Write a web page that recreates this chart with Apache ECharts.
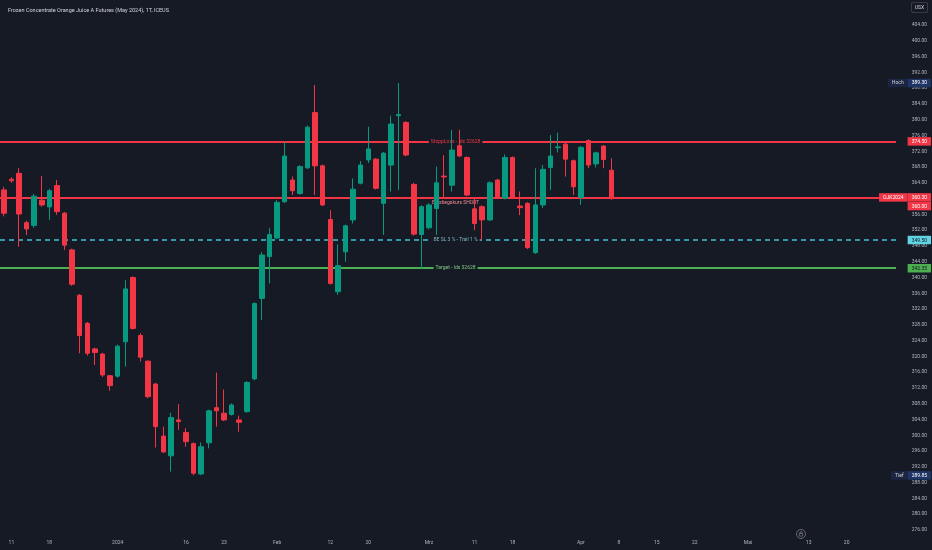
<!DOCTYPE html>
<html>
<head>
<meta charset="utf-8">
<script src="https://cdn.jsdelivr.net/npm/echarts@6/dist/echarts.min.js"></script>
<style>
html,body{margin:0;padding:0;background:#161a25;}
#chart{width:932px;height:550px;}
</style>
</head>
<body>
<div id="chart"></div>
<script>
// ---------- data ----------
const titleText = 'Frozen Concentrate Orange Juice A Futures (May 2024), 1T, ICEUS';
const currencyUnit = 'USX';
const symbolName = 'OJK2024';

const tradeDates = [
  '2023-12-08','2023-12-11','2023-12-12','2023-12-13','2023-12-14','2023-12-15','2023-12-18','2023-12-19','2023-12-20','2023-12-21',
  '2023-12-22','2023-12-26','2023-12-27','2023-12-28','2023-12-29','2024-01-02','2024-01-03','2024-01-04','2024-01-05','2024-01-08',
  '2024-01-09','2024-01-10','2024-01-11','2024-01-12','2024-01-16','2024-01-17','2024-01-18','2024-01-19','2024-01-22','2024-01-23',
  '2024-01-24','2024-01-25','2024-01-26','2024-01-29','2024-01-30','2024-01-31','2024-02-01','2024-02-02','2024-02-05','2024-02-06',
  '2024-02-07','2024-02-08','2024-02-09','2024-02-12','2024-02-13','2024-02-14','2024-02-15','2024-02-16','2024-02-20','2024-02-21',
  '2024-02-22','2024-02-23','2024-02-26','2024-02-27','2024-02-28','2024-02-29','2024-03-01','2024-03-04','2024-03-05','2024-03-06',
  '2024-03-07','2024-03-08','2024-03-11','2024-03-12','2024-03-13','2024-03-14','2024-03-15','2024-03-18','2024-03-19','2024-03-20',
  '2024-03-21','2024-03-22','2024-03-25','2024-03-26','2024-03-27','2024-03-28','2024-04-01','2024-04-02','2024-04-03','2024-04-04',
  '2024-04-05'
];
const futureDates = [
  '2024-04-08','2024-04-09','2024-04-10','2024-04-11','2024-04-12','2024-04-15','2024-04-16','2024-04-17','2024-04-18','2024-04-19',
  '2024-04-22','2024-04-23','2024-04-24','2024-04-25','2024-04-26','2024-04-29','2024-04-30','2024-05-01','2024-05-02','2024-05-03',
  '2024-05-06','2024-05-07','2024-05-08','2024-05-09','2024-05-10','2024-05-13','2024-05-14','2024-05-15','2024-05-16','2024-05-17',
  '2024-05-20','2024-05-21','2024-05-22','2024-05-23','2024-05-24','2024-05-28','2024-05-29'
];

const opens = [
  362.2, 364.9, 366.4, 353.9, 353.2, 359.6, 357.9, 363.3, 356.3, 347.0,
  335.5, 328.4, 321.9, 320.6, 315.1, 315.0, 323.7, 340.0, 325.3, 318.8,
  313.0, 299.8, 294.8, 303.9, 300.7, 297.9, 290.2, 298.1, 307.0, 305.6,
  305.3, 303.9, 306.0, 314.3, 334.7, 345.3, 350.0, 359.2, 364.7, 361.3,
  367.8, 381.8, 368.3, 354.7, 336.4, 346.5, 354.6, 363.9, 369.8, 370.0,
  358.8, 368.5, 381.0, 379.3, 363.6, 350.9, 352.6, 357.5, 365.7, 363.4,
  373.4, 370.4, 357.4, 357.95, 354.6, 364.7, 360.1, 370.4, 358.1, 358.8,
  346.3, 358.4, 367.9, 372.9, 373.8, 369.6, 360.3, 374.7, 368.8, 373.3,
  367.2
];
const closes = [
  356.3, 364.5, 356.1, 352.3, 360.6, 358.4, 362.0, 356.7, 348.2, 338.3,
  325.3, 320.8, 321.0, 315.3, 312.6, 322.6, 337.1, 327.1, 319.8, 309.8,
  302.2, 295.8, 304.5, 303.5, 298.4, 290.4, 297.1, 306.2, 306.2, 303.9,
  307.7, 303.3, 313.4, 333.4, 345.7, 350.9, 359.05, 370.8, 362.0, 368.1,
  378.1, 368.3, 358.4, 338.5, 343.0, 353.1, 362.4, 368.5, 372.6, 362.6,
  371.5, 378.9, 381.3, 371.05, 351.0, 357.95, 358.4, 364.0, 365.5, 372.3,
  370.8, 360.9, 353.7, 354.6, 364.0, 360.2, 370.4, 360.2, 357.7, 347.55,
  358.4, 367.4, 370.8, 373.1, 370.0, 363.0, 373.0, 368.5, 371.6, 369.9,
  360.0
];
const lows = [
  355.5, 364.0, 347.8, 350.8, 352.6, 357.9, 354.6, 355.9, 347.0, 337.9,
  320.8, 320.2, 317.8, 314.8, 311.3, 314.6, 317.4, 326.8, 318.7, 309.4,
  296.9, 295.5, 290.8, 301.4, 297.1, 289.85, 289.9, 296.7, 302.2, 303.6,
  305.0, 300.9, 305.7, 314.0, 329.2, 338.5, 349.7, 358.9, 360.9, 361.0,
  367.5, 360.9, 358.1, 338.2, 335.6, 344.0, 353.7, 363.6, 369.0, 362.3,
  350.8, 361.8, 362.2, 370.7, 350.6, 342.3, 352.2, 350.8, 360.1, 361.8,
  370.5, 360.6, 352.0, 349.5, 354.3, 359.9, 359.8, 359.9, 355.8, 347.2,
  346.0, 357.6, 362.2, 371.7, 365.6, 360.9, 358.4, 367.7, 367.9, 367.7,
  359.7
];
const highs = [
  363.0, 365.4, 367.7, 354.4, 361.2, 365.7, 362.5, 364.7, 356.6, 347.3,
  335.8, 328.7, 322.2, 320.9, 315.3, 323.0, 339.3, 340.3, 325.9, 319.0,
  313.3, 302.2, 305.7, 307.9, 301.8, 298.2, 298.2, 306.5, 315.9, 311.6,
  308.1, 305.0, 313.7, 333.7, 346.4, 352.5, 359.6, 374.4, 365.6, 368.5,
  378.5, 388.8, 368.6, 357.1, 348.4, 353.4, 365.1, 369.5, 378.2, 370.3,
  371.8, 381.0, 389.3, 379.6, 364.0, 358.3, 358.8, 368.1, 371.0, 377.4,
  377.4, 370.7, 360.0, 358.3, 364.4, 365.0, 371.2, 370.7, 361.8, 359.1,
  367.7, 368.5, 376.1, 376.7, 374.4, 369.9, 373.3, 375.0, 371.9, 373.6,
  370.2
];

// time-axis tick labels
const tickDates = ['2023-12-11','2023-12-18','2024-01-02','2024-01-16','2024-01-23','2024-02-01','2024-02-12','2024-02-20','2024-03-01','2024-03-11','2024-03-18','2024-04-01','2024-04-08','2024-04-15','2024-04-22','2024-05-01','2024-05-13','2024-05-20'];
const tickTexts = ['11','18','2024','16','23','Feb','12','20','Mrz','11','18','Apr','8','15','22','Mai','13','20'];

// price-axis range
const priceMin = 276, priceMax = 410, priceStep = 4, priceLabelTop = 404;

// drawn horizontal levels
const levelValues = [374.50, 360.30, 349.50, 342.35];
const levelTexts = ['StoppLoss - Idx 32628', 'Einstiegskurs SHORT', 'BE SL 3 % - Trail 1 %', 'Target - Idx 32628'];
const levelTextDates = ['2024-03-06', '2024-03-07'];

// visible range extremes
const rangeHighText = 'Hoch', rangeHigh = 389.30;
const rangeLowText = 'Tief', rangeLow = 289.85;

// ---------- chart ----------
const FONT = 'Roboto, "Noto Sans", sans-serif';
const BG = '#161a25';
const CLEAR = 'rgba(0,0,0,0)';
const allDates = tradeDates.concat(futureDates);
const candleData = tradeDates.map((d, i) => [opens[i], closes[i], lows[i], highs[i]]);
const lastClose = closes[closes.length - 1];
const fmt = v => v.toFixed(2);

const tagPad = [2, 4, 1.5, 4];
const rich = {
  red:   {backgroundColor:'#f23645', color:'#ffffff', padding:tagPad, fontSize:5, fontFamily:FONT, lineHeight:6},
  cyan:  {backgroundColor:'#5fd3e4', color:'#131722', padding:tagPad, fontSize:5, fontFamily:FONT, lineHeight:6},
  green: {backgroundColor:'#4caf50', color:'#131722', padding:tagPad, fontSize:5, fontFamily:FONT, lineHeight:6},
  nName: {backgroundColor:'#1c2541', color:'#d1d4dc', padding:tagPad, fontSize:5, fontFamily:FONT, lineHeight:6},
  nVal:  {backgroundColor:'#1f3566', color:'#ffffff', padding:tagPad, fontSize:5, fontFamily:FONT, lineHeight:6}
};
const tagLabel = (formatter, extra) => Object.assign({
  show: true, position: 'end', distance: 35, align: 'right', formatter: formatter, rich: rich
}, extra || {});

const i0 = allDates.indexOf(levelTextDates[0]);
const i1 = allDates.indexOf(levelTextDates[1]);
const midText = (value, text, color, onLine) => [
  {coord: [i0, value], lineStyle: {color: CLEAR, width: 0},
   label: Object.assign({show: true, formatter: text, color: color, fontSize: 5, fontFamily: FONT},
     onLine
       ? {position: 'middle', verticalAlign: 'middle', distance: 0, backgroundColor: BG, padding: [0.5, 2]}
       : {position: 'insideMiddleBottom', distance: 3})},
  {coord: [i1, value]}
];

const option = {
  backgroundColor: BG,
  animation: false,
  title: {
    text: titleText, left: 3, top: 3,
    textStyle: {color: '#d1d4dc', fontSize: 5.5, fontWeight: 'normal', fontFamily: FONT}
  },
  grid: {left: -5.42, right: 36, top: 1.33, bottom: 20, containLabel: false},
  xAxis: {
    type: 'category', data: allDates, boundaryGap: true,
    axisLine: {show: false}, axisTick: {show: false}, splitLine: {show: false},
    axisLabel: {
      color: '#b2b5be', fontSize: 5, fontFamily: FONT, margin: 10.5,
      interval: (idx, val) => tickDates.indexOf(val) >= 0,
      formatter: val => { const j = tickDates.indexOf(val); return j >= 0 ? tickTexts[j] : ''; }
    }
  },
  yAxis: {
    type: 'value', position: 'right', min: priceMin, max: priceMax, interval: priceStep, scale: true,
    axisLine: {show: false}, axisTick: {show: false}, splitLine: {show: false},
    axisLabel: {
      color: '#b2b5be', fontSize: 5, fontFamily: FONT, align: 'right', margin: 31,
      formatter: v => v > priceLabelTop + 0.5 ? '' : fmt(v)
    }
  },
  graphic: [
    {type: 'text', right: 4, top: 2, z: 100,
     style: {text: currencyUnit, fill: '#d1d4dc', font: '5px ' + FONT, backgroundColor: BG,
             borderColor: '#434651', borderWidth: 0.8, borderRadius: 2, padding: [2.5, 3, 2, 3]}},
    {type: 'group', left: 794, top: 527, z: 100, children: [
      {type: 'circle', shape: {cx: 5, cy: 5, r: 4.5}, style: {fill: 'none', stroke: '#787b86', lineWidth: 0.8}},
      {type: 'rect', shape: {x: 3.3, y: 4.3, width: 3.4, height: 2.8}, style: {fill: 'none', stroke: '#787b86', lineWidth: 0.7}},
      {type: 'circle', shape: {cx: 5, cy: 3.6, r: 1}, style: {fill: 'none', stroke: '#787b86', lineWidth: 0.7}}
    ]}
  ],
  series: [
    {
      type: 'line', data: [], z: 1, clip: false, silent: true,
      markLine: {
        z: 1, silent: true, symbol: ['none', 'none'], animation: false,
        data: [
          {yAxis: levelValues[0], lineStyle: {color: '#f23645', width: 2, type: 'solid'},
           label: tagLabel('{red|' + fmt(levelValues[0]) + '}')},
          {yAxis: levelValues[1], lineStyle: {color: '#f23645', width: 2, type: 'solid'},
           label: tagLabel('{red|' + symbolName + '}{red|' + fmt(levelValues[1]) + '}')},
          {yAxis: levelValues[2], lineStyle: {color: '#3fc5d8', width: 1.5, type: [5, 4]},
           label: tagLabel('{cyan|' + fmt(levelValues[2]) + '}')},
          {yAxis: levelValues[3], lineStyle: {color: '#4caf50', width: 2, type: 'solid'},
           label: tagLabel('{green|' + fmt(levelValues[3]) + '}')},
          {yAxis: lastClose, lineStyle: {color: CLEAR, width: 0},
           label: tagLabel('{red|' + fmt(lastClose) + '}', {padding: [15, 0, 0, 0]})},
          {yAxis: rangeHigh, lineStyle: {color: CLEAR, width: 0},
           label: tagLabel('{nName|' + rangeHighText + '}{nVal|' + fmt(rangeHigh) + '}')},
          {yAxis: rangeLow, lineStyle: {color: CLEAR, width: 0},
           label: tagLabel('{nName|' + rangeLowText + '}{nVal|' + fmt(rangeLow) + '}')},
          midText(levelValues[0], levelTexts[0], '#f23645', true),
          midText(levelValues[1], levelTexts[1], '#f28b95', false),
          midText(levelValues[2], levelTexts[2], '#7fb6c2', true),
          midText(levelValues[3], levelTexts[3], '#81c784', true)
        ]
      }
    },
    {
      type: 'candlestick', z: 2, barWidth: 5, data: candleData, silent: true,
      itemStyle: {color: '#089981', color0: '#f23645', borderColor: '#089981', borderColor0: '#f23645', borderWidth: 1}
    }
  ]
};

const chart = echarts.init(document.getElementById('chart'), null, {renderer: 'canvas'});
chart.setOption(option);
</script>
</body>
</html>
